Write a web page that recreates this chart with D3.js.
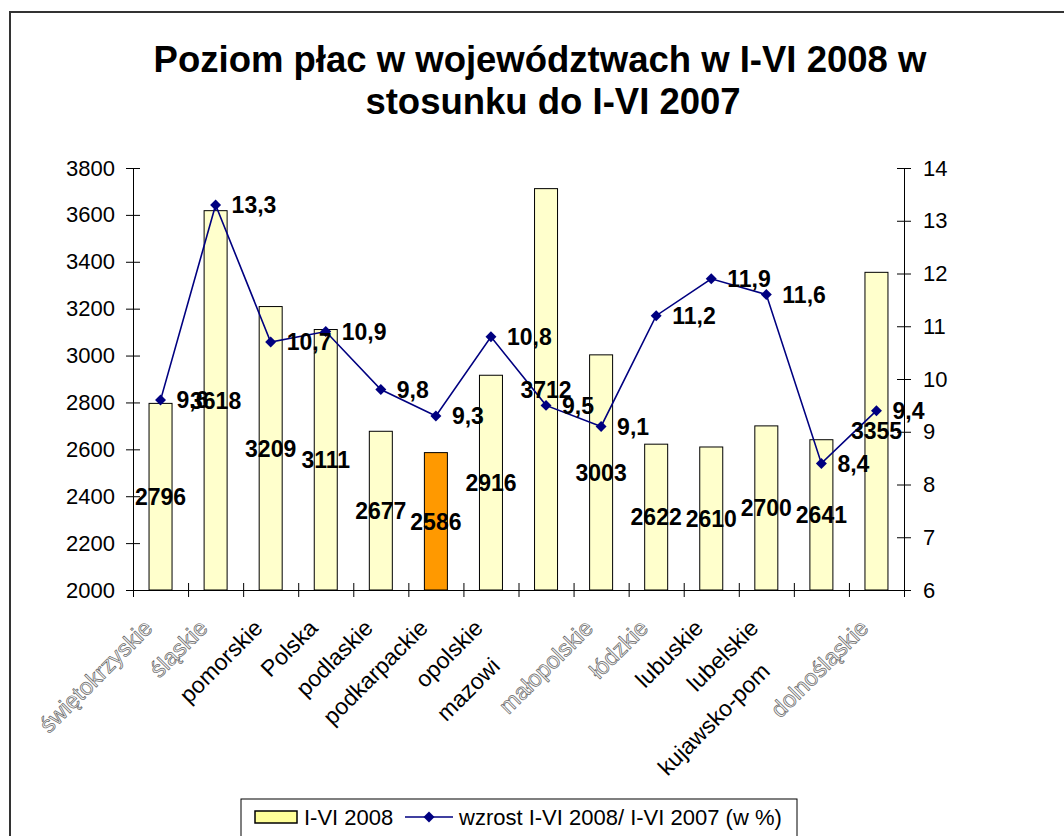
<!DOCTYPE html>
<html><head><meta charset="utf-8">
<script src="https://cdn.jsdelivr.net/npm/d3@7"></script>
<style>
body{margin:0;background:#fff;}
svg{display:block;font-family:"Liberation Sans",Arial,sans-serif;}
</style></head>
<body>
<svg id="chart" width="1064" height="836"></svg>
<script>
const categories = ["świętokrzyskie","śląskie","pomorskie","Polska","podlaskie","podkarpackie","opolskie","mazowieckie","małopolskie","łódzkie","lubuskie","lubelskie","kujawsko-pomorskie","dolnośląskie"];
const wages2008 = [2796,3618,3209,3111,2677,2586,2916,3712,3003,2622,2610,2700,2641,3355];
const growthPct = [9.6,13.3,10.7,10.9,9.8,9.3,10.8,9.5,9.1,11.2,11.9,11.6,8.4,9.4];
const leftTicks = [2000,2200,2400,2600,2800,3000,3200,3400,3600,3800];
const rightTicks = [6,7,8,9,10,11,12,13,14];
const highlighted = ["podkarpackie"];
const ghostLabels = ["świętokrzyskie","śląskie","małopolskie","łódzkie","dolnośląskie"];
const shownLabel = {"mazowieckie":"mazowi","kujawsko-pomorskie":"kujawsko-pom"};
const titleLines = ["Poziom płac w województwach w I-VI 2008 w","stosunku do I-VI 2007"];
const legendLabels = ["I-VI 2008","wzrost I-VI 2008/ I-VI 2007 (w %)"];

const svg = d3.select("#chart");
const L = 133, R = 904, T = 168, B = 590;
const navy = "#000080";

// outer border
svg.append("path").attr("d",`M10,836 L10,12 L1064,12`).attr("fill","none").attr("stroke","#333").attr("stroke-width",2);

// title
svg.append("text").attr("x",540).attr("y",72).attr("text-anchor","middle")
  .attr("font-weight","bold").attr("font-size",36.5).text(titleLines[0]);
svg.append("text").attr("x",553).attr("y",114).attr("text-anchor","middle")
  .attr("font-weight","bold").attr("font-size",36.5).text(titleLines[1]);

const x = d3.scaleBand().domain(categories).range([L,R]).padding(0);
const xi = d3.scaleLinear().domain([0,categories.length]).range([L,R]);
const yL = d3.scaleLinear().domain([2000,3800]).range([B,T]);
const yR = d3.scaleLinear().domain([6,14]).range([B,T]);
const cx = c => x(c) + x.bandwidth()/2;
const barW = 23;

// bars
svg.append("g").selectAll("rect").data(categories).join("rect")
  .attr("x",c=>cx(c)-barW/2).attr("width",barW)
  .attr("y",(c,i)=>yL(wages2008[i])).attr("height",(c,i)=>yL(2000)-yL(wages2008[i]))
  .attr("fill",c=>highlighted.includes(c)?"#FF9900":"#FFFFCC")
  .attr("stroke","#000").attr("stroke-width",1);

// axes
const axL = svg.append("g").attr("transform",`translate(${L},0)`)
  .call(d3.axisLeft(yL).tickValues(leftTicks).tickSizeInner(7).tickSizeOuter(0).tickPadding(11).tickFormat(d3.format("d")));
axL.selectAll(".tick line").attr("x1",7);
const axR = svg.append("g").attr("transform",`translate(${R},0)`)
  .call(d3.axisRight(yR).tickValues(rightTicks).tickSizeInner(7).tickSizeOuter(0).tickPadding(12).tickFormat(d3.format("d")));
axR.selectAll(".tick line").attr("x1",-7);
const axB = svg.append("g").attr("transform",`translate(0,${B})`)
  .call(d3.axisBottom(xi).tickValues(d3.range(0,categories.length+1)).tickSizeInner(7).tickSizeOuter(0).tickFormat(""));
axB.selectAll(".tick line").attr("y1",-7);
[axL,axR].forEach(a=>a.selectAll(".tick text").attr("font-size",22).attr("fill","#000").attr("font-family","Liberation Sans, Arial, sans-serif"));
[axL,axR,axB].forEach(a=>{a.select(".domain").attr("stroke","#000");a.selectAll(".tick line").attr("stroke","#000");});

// x labels
const xl = svg.append("g").selectAll("text").data(categories).join("text")
  .attr("transform",c=>`translate(${cx(c)-18},${618}) rotate(-45)`)
  .attr("text-anchor","end").attr("dy","0.7em").attr("font-size",23)
  .text(c=>c)
  .attr("fill",c=>ghostLabels.includes(c)?"#f2f2f2":"#000")
  .attr("stroke",c=>ghostLabels.includes(c)?"#666":"none")
  .attr("stroke-width",0.7);
xl.each(function(c){
  if(shownLabel[c]){
    const el=d3.select(this);
    const full=this.getComputedTextLength();
    el.text(shownLabel[c]).attr("text-anchor","start").attr("x",-full);
  }
});

// line
const line = d3.line().x((d,i)=>cx(categories[i])).y(d=>yR(d));
svg.append("path").datum(growthPct).attr("d",line).attr("fill","none").attr("stroke",navy).attr("stroke-width",1.6);
const diamond = d3.symbol(d3.symbolSquare,60);
svg.append("g").selectAll("path").data(growthPct).join("path")
  .attr("d",diamond).attr("fill",navy)
  .attr("transform",(d,i)=>`translate(${cx(categories[i])},${yR(d)}) rotate(45)`);

const fmt = v => d3.format(".1f")(v).replace(".",",");
// bar labels
svg.append("g").selectAll("text").data(wages2008).join("text")
  .attr("x",(d,i)=>cx(categories[i])).attr("y",d=>yL((2000+d)/2))
  .attr("dy","0.36em").attr("text-anchor","middle").attr("font-weight","bold").attr("font-size",23)
  .text(d=>d);
// line labels
svg.append("g").selectAll("text").data(growthPct).join("text")
  .attr("x",(d,i)=>cx(categories[i])+16).attr("y",d=>yR(d))
  .attr("dy","0.36em").attr("font-weight","bold").attr("font-size",23)
  .text(d=>fmt(d));

// legend
const lg = svg.append("g");
lg.append("rect").attr("x",241).attr("y",799).attr("width",556).attr("height",60).attr("fill","#fff").attr("stroke","#000").attr("stroke-width",1);
lg.append("rect").attr("x",255).attr("y",811).attr("width",42).attr("height",12).attr("fill","#FFFF99").attr("stroke","#000").attr("stroke-width",1.5);
lg.append("text").attr("x",304).attr("y",817).attr("dy","0.36em").attr("font-size",22).text(legendLabels[0]);
lg.append("line").attr("x1",405).attr("x2",453).attr("y1",817).attr("y2",817).attr("stroke",navy).attr("stroke-width",1.6);
lg.append("path").attr("d",diamond).attr("fill",navy).attr("transform","translate(429,817) rotate(45)");
lg.append("text").attr("x",459).attr("y",817).attr("dy","0.36em").attr("font-size",22).text(legendLabels[1]);
</script>
</body></html>
